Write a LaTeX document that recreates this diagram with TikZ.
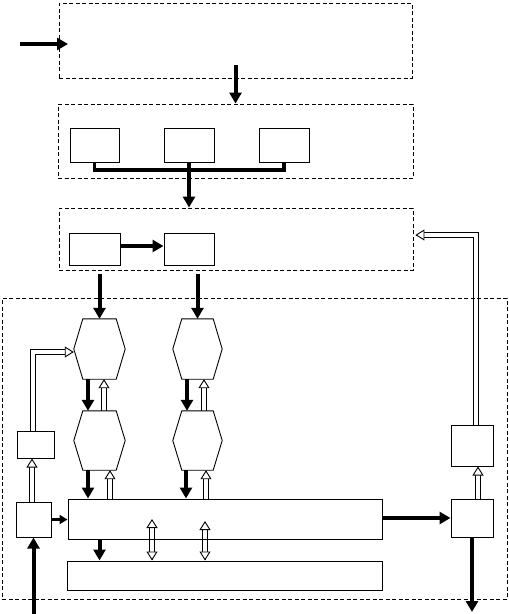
\documentclass[tikz,border=0pt]{standalone}
\usetikzlibrary{arrows.meta,calc,backgrounds}
\newcommand\harr[2]{\draw[hshaft] (#1) -- (#2); \draw[hhead] ($(#2)!1pt!(#1)$) -- (#2);}
\newcommand\hdarr[2]{\draw[hshaft, shorten <=8.5pt] (#1) -- (#2); \draw[hhead] ($(#2)!1pt!(#1)$) -- (#2); \draw[hhead] ($(#1)!1pt!(#2)$) -- (#1);}
\newcommand\hexdraw[1]{\draw[line width=0.9pt, line join=miter] ([xshift=9pt]#1.north west) -- ([xshift=-9pt]#1.north east) -- (#1.east) -- ([xshift=-9pt]#1.south east) -- ([xshift=9pt]#1.south west) -- (#1.west) -- cycle;}
\begin{document}
\begin{tikzpicture}[x=1pt,y=-1pt,
  dbox/.style={draw, line width=0.9pt, dash pattern=on 4pt off 2.5pt, inner sep=0pt},
  sbox/.style={draw, line width=1pt, inner sep=0pt},
  hexa/.style={inner sep=0pt, minimum height=60pt},
  blk/.style={line width=4pt, -{Triangle[length=11pt,width=12pt]}},
  blkthin/.style={line width=3pt, -{Triangle[length=8pt,width=9pt]}},
  bus/.style={line width=3.5pt, line join=miter},
  hshaft/.style={draw, line width=0.9pt, double=white, double distance=4pt, shorten >=8.5pt},
  hhead/.style={line width=0.9pt, -{Triangle[length=9pt,width=11pt,fill=white]}}]
\useasboundingbox (0,0) rectangle (509,614);
% dashed groups
\node[dbox, minimum width=353pt, minimum height=75pt] (b1) at (235.5,40.5) {};
\node[dbox, minimum width=355pt, minimum height=74pt] (b2) at (235.5,141) {};
\node[dbox, minimum width=354pt, minimum height=62pt] (b3) at (236,239) {};
\node[dbox, minimum width=505pt, minimum height=301pt] (b4) at (254.5,448.5) {};
% boxes in group 2
\node[sbox, minimum width=49pt, minimum height=34pt] (a) at (94.5,145) {};
\node[sbox, minimum width=50pt, minimum height=34pt] (b) at (189,145) {};
\node[sbox, minimum width=50pt, minimum height=34pt] (c) at (284,145) {};
% boxes in group 3
\node[sbox, minimum width=51pt, minimum height=32pt] (d) at (94.5,249) {};
\node[sbox, minimum width=50pt, minimum height=32pt] (e) at (189,249) {};
% hexagons
\node[hexa, minimum width=51pt] (hex1) at (99.5,349) {};
\node[hexa, minimum width=49pt] (hex2) at (197.5,349) {};
\node[hexa, minimum width=51pt, minimum height=59pt] (hex3) at (99.5,440.5) {};
\node[hexa, minimum width=49pt, minimum height=59pt] (hex4) at (197.5,440.5) {};
\hexdraw{hex1}\hexdraw{hex2}\hexdraw{hex3}\hexdraw{hex4}
% lower boxes
\node[sbox, minimum width=314pt, minimum height=40pt] (main) at (225,519) {};
\node[sbox, minimum width=315pt, minimum height=29pt] (st) at (224.5,575.5) {};
\node[sbox, minimum width=35pt, minimum height=35pt] (h) at (33.5,519.5) {};
\node[sbox, minimum width=37pt, minimum height=27pt] (g) at (35.5,444.5) {};
\node[sbox, minimum width=42pt, minimum height=38pt] (i) at (472,518) {};
\node[sbox, minimum width=42pt, minimum height=41pt] (f) at (472,445.5) {};
% free ends and offsets
\coordinate (inp) at (20,44);
\coordinate (inq) at (68,44);
\coordinate (b1s) at ([yshift=13pt]b1.south);
\coordinate (busc) at (189,170);
\coordinate (ds) at ([yshift=-8pt]d.south);
\coordinate (es) at ([yshift=-8pt]e.south);
\coordinate (de) at ([yshift=3pt]d.east);
\coordinate (h1b) at ([xshift=-11.5pt]hex1.south);
\coordinate (h3t) at ([xshift=-11.5pt]hex3.north);
\coordinate (h3tu) at ([xshift=4.5pt]hex3.north);
\coordinate (h1bu) at ([xshift=4.5pt]hex1.south);
\coordinate (h2b) at ([xshift=-10.5pt]hex2.south);
\coordinate (h4t) at ([xshift=-10.5pt]hex4.north);
\coordinate (h4tu) at ([xshift=6.5pt]hex4.north);
\coordinate (h2bu) at ([xshift=6.5pt]hex2.south);
\coordinate (h3b) at ([xshift=-11.5pt]hex3.south);
\coordinate (h3bu) at ([xshift=10.5pt]hex3.south);
\coordinate (m3bu) at (h3bu |- main.north);
\coordinate (h4b) at ([xshift=-11.5pt]hex4.south);
\coordinate (h4bu) at ([xshift=8.5pt]hex4.south);
\coordinate (m4bu) at (h4bu |- main.north);
\coordinate (gtop) at ([xshift=-2.5pt]g.north);
\coordinate (htop) at ([xshift=-1.5pt]h.north);
\coordinate (gbot) at (htop |- g.south);
\coordinate (hin) at (33.5,614);
\coordinate (dd1) at ([xshift=-73pt]main.center);
\coordinate (dd1b) at (dd1 |- st.north);
\coordinate (dd2) at ([xshift=-20pt,yshift=-2pt]main.center);
\coordinate (dd2b) at (dd2 |- st.north);
\coordinate (itop) at ([xshift=6pt]i.north);
\coordinate (fbot) at (itop |- f.south);
\coordinate (ftop) at ([xshift=4pt]f.north);
\coordinate (fb) at ([xshift=2pt,yshift=4pt]b3.east);
\coordinate (out) at (472,612);
\begin{scope}[on background layer]
\draw[blk] (inp) -- (inq);
\draw[blk] (b1s) -- (b1s |- b2.north);
\draw[bus] (a.south) |- (busc) -| (c.south);
\draw[blk] (b.south) -- (b.south |- b3.north);
\draw[blk] (de) -- (de -| e.west);
\draw[blk] (ds -| hex1.north) -- (hex1.north);
\draw[blk] (es -| hex2.north) -- (hex2.north);
\draw[blk] (h1b) -- (h3t);
\harr{h3tu}{h1bu}
\draw[blk] (h2b) -- (h4t);
\harr{h4tu}{h2bu}
\draw[blk] (h3b) -- (h3b |- main.north);
\harr{m3bu}{h3bu}
\draw[blk] (h4b) -- (h4b |- main.north);
\harr{m4bu}{h4bu}
\draw[hshaft] (gtop) |- ([yshift=-3pt]hex1.west);
\draw[hhead] ($([yshift=-3pt]hex1.west)+(-1,0)$) -- ([yshift=-3pt]hex1.west);
\harr{htop}{gbot}
\draw[blk] (hin) -- (h.south);
\draw[blkthin] (h.east) -- (h.east -| main.west);
\draw[blk] (main.south -| hex1.south) -- (st.north -| hex1.south);
\hdarr{dd1}{dd1b}
\hdarr{dd2}{dd2b}
\draw[blk] (main.east |- i.west) -- (i.west);
\harr{itop}{fbot}
\draw[hshaft] (ftop) |- (fb);
\draw[hhead] ($(fb)+(1,0)$) -- (fb);
\draw[blk] (i.south) -- (out);
\end{scope}
\end{tikzpicture}
\end{document}
